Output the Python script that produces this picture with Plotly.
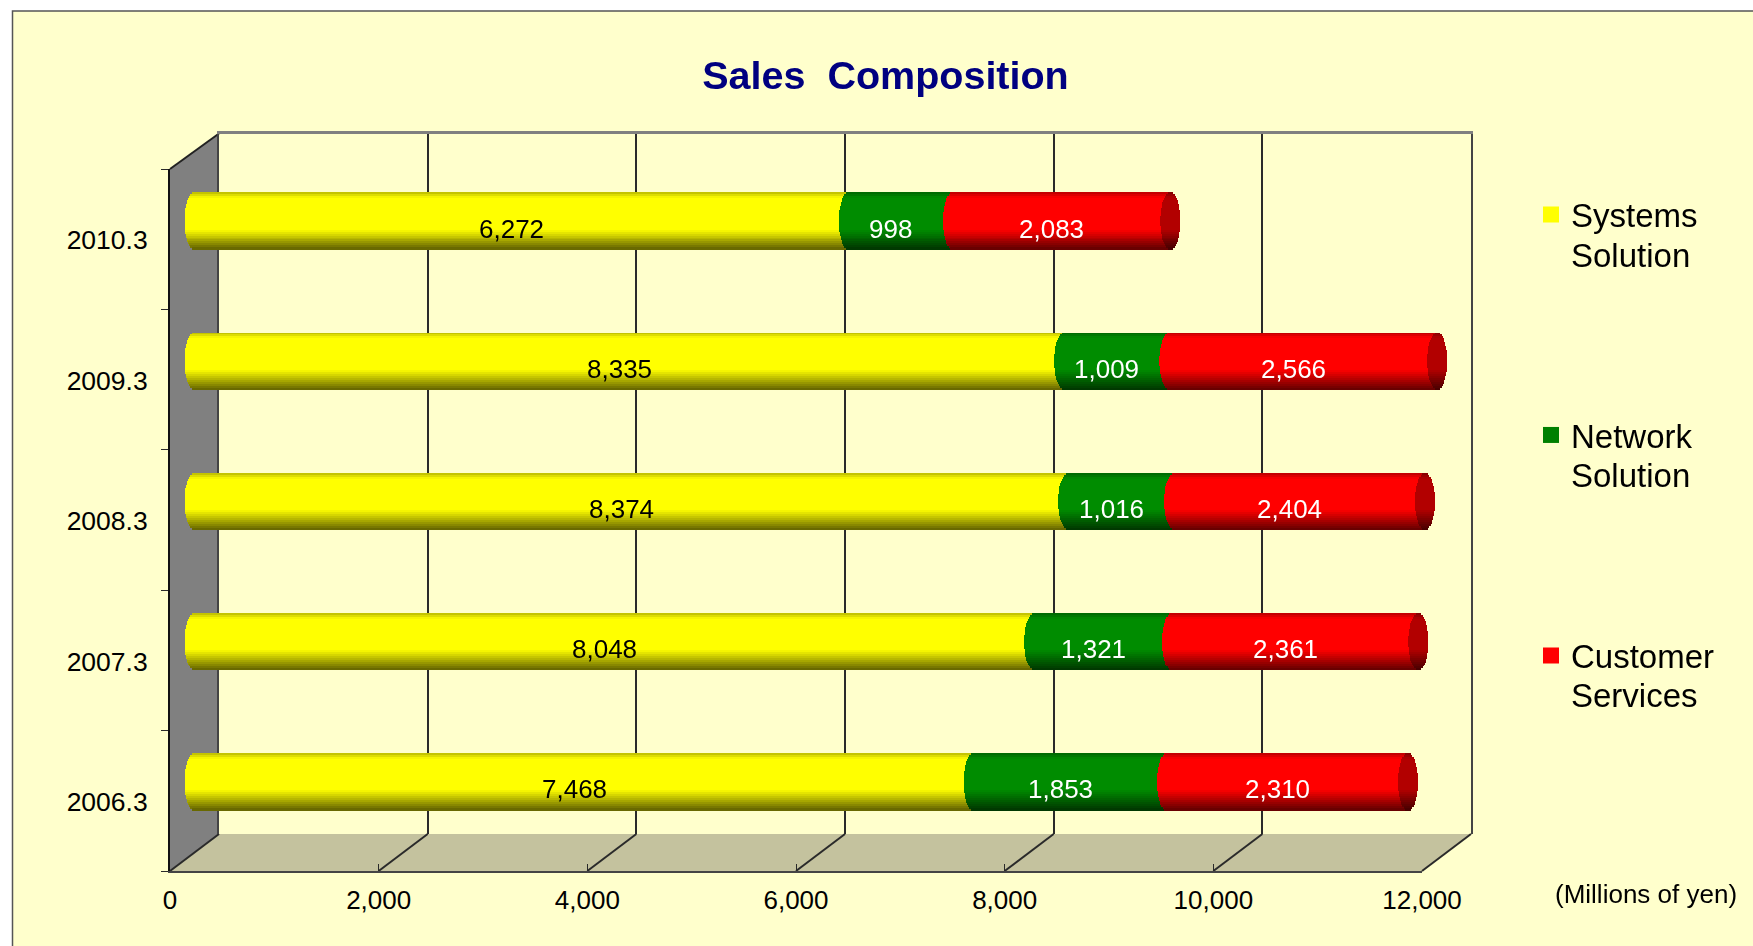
import math
import plotly.graph_objects as go

W, H = 1753, 946

categories = ["2006.3", "2007.3", "2008.3", "2009.3", "2010.3"]
systems = [7468, 8048, 8374, 8335, 6272]
network = [1853, 1321, 1016, 1009, 998]
customer = [2310, 2361, 2404, 2566, 2083]
legend_first = ["Systems", "Network", "Customer"]
legend_second = ["Solution", "Solution", "Services"]
series_colors = [(255, 255, 0), (0, 140, 0), (255, 0, 0)]
legend_colors = ["#FFFF00", "#008000", "#FF0000"]
label_colors = ["#000000", "#FFFFFF", "#FFFFFF"]
x_ticks = [0, 2000, 4000, 6000, 8000, 10000, 12000]

FONT = "Liberation Sans, Arial, sans-serif"
BG = "#FFFFCC"
LINE = "#2A2A2A"

# geometry in pixels of the pseudo-3D box
FX0, FX1, FY0, FY1 = 170, 1422, 169, 871     # front plane
BX0, BX1, BY0, BY1 = 219, 1471, 133.5, 834   # back wall
PX_PER_UNIT = (FX1 - FX0) / 12000
BAR_X0 = 194.5
BAR_TOP, BAR_STEP, BAR_H = 151, 140.2, 57
CAP_R = 10 / PX_PER_UNIT


def px(x):
    return x / W


def py(y):
    return 1 - y / H


def rgb(c, f):
    return "rgb(%d,%d,%d)" % tuple(min(255, round(v * f)) for v in c)


def shade(s):
    # s = +1 top edge of the cylinder, -1 bottom edge
    if s > 0.8:
        return 1 - (s - 0.8) / 0.2 * 0.28
    if s > -0.3:
        return 1
    return 1 - (-0.3 - s) / 0.7 * 0.62


totals = [a + b + c for a, b, c in zip(systems, network, customer)]
starts = [[0] * 5, systems, [a + b for a, b in zip(systems, network)]]
values = [systems, network, customer]

fig = go.Figure()

# back wall (x, y) and front axes (x2, y2) carry only invisible anchors
fig.add_trace(go.Scatter(x=totals, y=categories, mode="markers", opacity=0, showlegend=False,
                         hoverinfo="skip", xaxis="x", yaxis="y"))
fig.add_trace(go.Scatter(x=totals, y=categories, mode="markers", opacity=0, showlegend=False,
                         hoverinfo="skip", xaxis="x2", yaxis="y2"))

# cylinders: many thin strips follow the elliptical ends and the shading
N = 29
bar_frac = BAR_H / BAR_STEP
strip = bar_frac / N
for si in range(3):
    for k in range(N):
        s = 1 - (2 * k + 1) / N
        a = CAP_R * math.sqrt(max(0, 1 - s * s))
        fig.add_trace(go.Bar(
            y=categories, x=values[si], base=[b - a for b in starts[si]],
            orientation="h", width=strip * 1.25, offset=s * bar_frac / 2 - strip * 0.6,
            marker=dict(color=rgb(series_colors[si], shade(s)), line=dict(width=0)),
            showlegend=False, hoverinfo="skip", xaxis="x3", yaxis="y3"))
for k in range(N):
    s = 1 - (2 * k + 1) / N
    a = CAP_R * math.sqrt(max(0, 1 - s * s))
    fig.add_trace(go.Bar(
        y=categories, x=[2 * a] * 5, base=[t - a for t in totals],
        orientation="h", width=strip * 1.25, offset=s * bar_frac / 2 - strip * 0.6,
        marker=dict(color=rgb((178, 0, 0), shade(s)), line=dict(width=0)),
        showlegend=False, hoverinfo="skip", xaxis="x3", yaxis="y3"))

# legend entries
for name, col in zip(legend_first, legend_colors):
    fig.add_trace(go.Scatter(x=[None], y=[None], mode="markers", name=name, legendgroup=name,
                             marker=dict(symbol="square", size=17, color=col),
                             xaxis="x3", yaxis="y3"))

# shapes: panel, floor, side wall, floor lines
shapes = [
    dict(type="rect", xref="paper", yref="paper", x0=px(12.5), x1=px(W + 20), y0=py(H + 20), y1=py(11),
         fillcolor=BG, line=dict(color="#555555", width=1.5), layer="below"),
    dict(type="path", xref="paper", yref="paper", layer="below",
         path="M %f %f L %f %f L %f %f L %f %f Z" % (px(FX0), py(FY1), px(BX0), py(BY1), px(BX1), py(BY1), px(FX1), py(FY1)),
         fillcolor="#C4C29E", line=dict(width=0)),
    dict(type="path", xref="paper", yref="paper", layer="below",
         path="M %f %f L %f %f L %f %f L %f %f Z" % (px(FX0), py(FY0), px(BX0), py(BY0), px(BX0), py(BY1), px(FX0), py(FY1)),
         fillcolor="#808080", line=dict(width=0)),
    dict(type="line", xref="paper", yref="paper", layer="below",
         x0=px(FX0), y0=py(FY0), x1=px(BX0), y1=py(BY0), line=dict(color="#222222", width=2)),
]
for t in x_ticks:
    d = t * PX_PER_UNIT
    shapes.append(dict(type="line", xref="paper", yref="paper", layer="below",
                       x0=px(FX0 + d), y0=py(FY1), x1=px(BX0 + d), y1=py(BY1),
                       line=dict(color=LINE, width=2)))

# data labels
annotations = []
for si in range(3):
    for i, cat in enumerate(categories):
        annotations.append(dict(
            x=starts[si][i] + values[si][i] / 2, y=i, xref="x3", yref="y3",
            xanchor="center", yanchor="middle",
            text=f"{values[si][i]:,}", showarrow=False, xshift=-10, yshift=-7.5,
            font=dict(family=FONT, size=26, color=label_colors[si])))
annotations.append(dict(x=px(1646), y=py(894), xref="paper", yref="paper", text="(Millions of yen)",
                        xanchor="center", yanchor="middle",
                        showarrow=False, font=dict(family=FONT, size=26, color="#000000")))
for text, y in zip(legend_second, [255, 475, 695.4]):
    annotations.append(dict(x=px(1569), y=py(y), xref="paper", yref="paper", text=text,
                            xanchor="left", yanchor="middle", showarrow=False,
                            font=dict(family=FONT, size=33, color="#000000")))

fig.update_layout(
    width=W, height=H, autosize=False,
    margin=dict(l=0, r=0, t=0, b=0, pad=0, autoexpand=False),
    paper_bgcolor="#FFFFFF", plot_bgcolor="rgba(0,0,0,0)",
    barmode="overlay", bargap=0,
    shapes=shapes, annotations=annotations,
    title=dict(text="Sales\u00a0\u00a0Composition", x=885.5 / W, y=py(75), xref="paper", yref="paper",
               xanchor="center", yanchor="middle",
               font=dict(family=FONT, size=39.5, color="#000080", weight="bold")),
    legend=dict(x=px(1531), y=py(186.5), xanchor="left", yanchor="top", bgcolor="rgba(0,0,0,0)",
                tracegroupgap=174.6, font=dict(family=FONT, size=33, color="#000000")),
    # back wall
    xaxis=dict(domain=[px(BX0), px(BX1)], range=[0, 12000], anchor="y", side="top",
               tickvals=x_ticks, showticklabels=False, ticks="", showgrid=True, gridcolor=LINE,
               gridwidth=2, zeroline=False, showline=True, linecolor="#808080", linewidth=2.5,
               fixedrange=True),
    yaxis=dict(domain=[py(BY1), py(BY0)], type="category", categoryorder="array", categoryarray=categories,
               anchor="x", showticklabels=False, ticks="", showgrid=False, zeroline=False,
               showline=True, mirror=True, linecolor="#444444", linewidth=2, fixedrange=True),
    # front axes
    xaxis2=dict(domain=[px(FX0), px(FX1)], range=[0, 12000], anchor="y2", side="bottom",
                tickvals=x_ticks, tickformat=",d", ticks="inside", ticklen=7, tickwidth=1, tickcolor=LINE,
                ticklabelstandoff=5,
                tickfont=dict(family=FONT, size=26, color="#000000"), showgrid=False, zeroline=False,
                showline=True, linecolor="#444444", linewidth=2, fixedrange=True, automargin=False),
    yaxis2=dict(domain=[py(FY1), py(FY0)], type="category", categoryorder="array", categoryarray=categories,
                range=[-0.5, 4.5], anchor="x2", side="left", tickson="boundaries", ticks="outside",
                ticklen=7, tickwidth=1, tickcolor=LINE, ticklabelstandoff=15, ticklabelshift=1,
                tickfont=dict(family=FONT, size=26.5, color="#000000"), showgrid=False, zeroline=False,
                showline=True, linecolor="#111111", linewidth=2, fixedrange=True, automargin=False),
    # plane of the cylinders
    xaxis3=dict(domain=[px(FX0), px(BX1)], range=[(FX0 - BAR_X0) / PX_PER_UNIT, (BX1 - BAR_X0) / PX_PER_UNIT],
                anchor="y3", showline=False, showticklabels=False, ticks="", showgrid=False, zeroline=False,
                fixedrange=True),
    yaxis3=dict(domain=[py(BAR_TOP + 5 * BAR_STEP), py(BAR_TOP)], type="category", categoryorder="array",
                categoryarray=categories, range=[-0.5, 4.5], anchor="x3", showline=False, showticklabels=False,
                ticks="", showgrid=False, zeroline=False, fixedrange=True),
)

fig.write_html("out.html", post_script="document.body.style.margin='0';document.body.style.overflow='hidden';",
               config=dict(displayModeBar=False))
